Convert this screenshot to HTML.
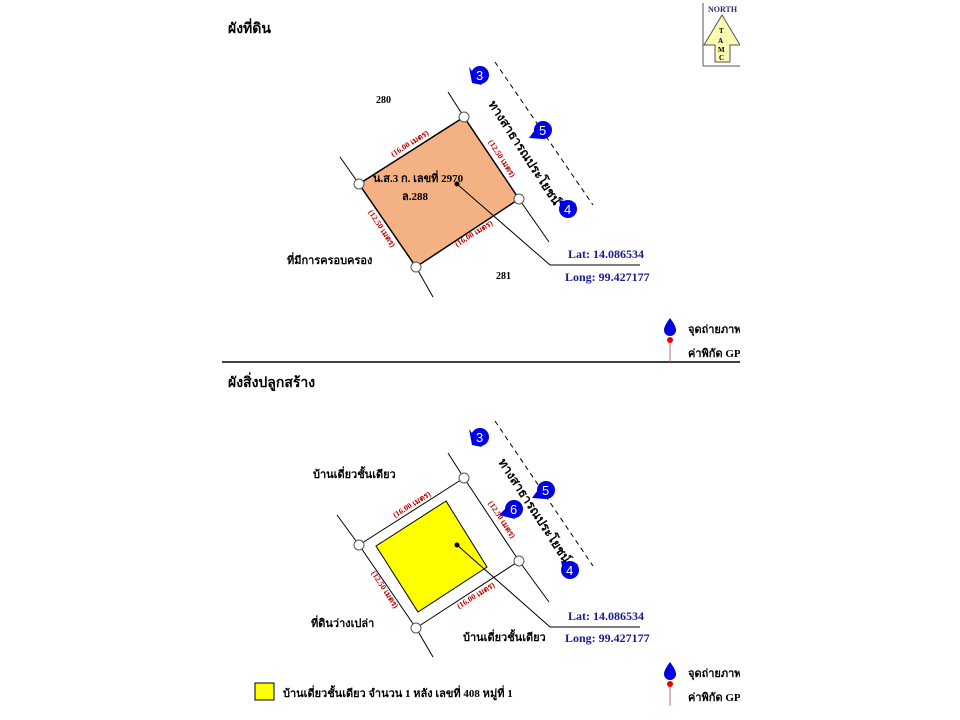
<!DOCTYPE html>
<html><head><meta charset="utf-8"><style>
html,body{margin:0;padding:0;background:#fff;width:960px;height:720px;overflow:hidden}
svg{display:block}
text{font-family:"Liberation Serif","Noto Serif CJK SC","Noto Sans CJK SC",serif;font-weight:bold}
.r{fill:#c00000;font-size:8px}
.b{fill:#1a1a8c;font-size:12px}
.m{fill:#fff;font-family:"Liberation Sans",sans-serif;font-weight:normal;font-size:13px}
</style></head><body>
<svg width="960" height="720" viewBox="0 0 960 720" xmlns="http://www.w3.org/2000/svg">
<text x="228" y="33" font-size="14">ผังที่ดิน</text>
<text x="228" y="387" font-size="14">ผังสิ่งปลูกสร้าง</text>
<line x1="222" y1="362" x2="740" y2="362" stroke="#000" stroke-width="1.5"/>
<!-- north -->
<line x1="703" y1="3" x2="703" y2="66" stroke="#555"/>
<line x1="703" y1="66" x2="740" y2="66" stroke="#555"/>
<text x="708" y="12" font-size="8" fill="#2a2a7a">NORTH</text>
<polygon points="722,15 740,45 730,45 730,62 715,62 715,45 704,45" fill="#fafab0" stroke="#555"/>
<text x="719" y="33" font-size="7">T</text><text x="718" y="43" font-size="7">A</text><text x="718" y="52" font-size="7">M</text><text x="719" y="60" font-size="7">C</text>

<!-- TOP PLOT -->
<g stroke="#000" stroke-width="1">
<line x1="448" y1="92" x2="464" y2="117"/>
<line x1="340" y1="157" x2="359" y2="184"/>
<line x1="416" y1="267" x2="433" y2="297"/>
<line x1="519" y1="199" x2="549" y2="242"/>
<line x1="495" y1="62" x2="593" y2="205" stroke-dasharray="5,4"/>
</g>
<polygon points="464,117 359,184 416,267 519,199" fill="#f4b183" stroke="#000" stroke-width="1.5"/>
<g fill="#fff" stroke="#555"><circle cx="464" cy="117" r="5"/><circle cx="359" cy="184" r="5"/><circle cx="416" cy="267" r="5"/><circle cx="519" cy="199" r="5"/></g>
<text class="r" transform="translate(393,157) rotate(-32)">(16.00 เมตร)</text>
<text class="r" transform="translate(488,142) rotate(57)">(12.50 เมตร)</text>
<text class="r" transform="translate(368,212) rotate(57)">(12.50 เมตร)</text>
<text class="r" transform="translate(457,247) rotate(-32)">(16.00 เมตร)</text>
<text x="373" y="182" font-size="11">น.ส.3 ก. เลขที่ 2970</text>
<text x="402" y="200" font-size="11">ล.288</text>
<circle cx="457" cy="184" r="2.5"/>
<polyline points="457,184 550,265 640,265" fill="none" stroke="#000"/>
<text x="568" y="258" class="b">Lat: 14.086534</text>
<text x="565" y="281" class="b">Long: 99.427177</text>
<text x="376" y="103" font-size="10">280</text>
<text x="496" y="279" font-size="10">281</text>
<text x="287" y="264" font-size="11">ที่มีการครอบครอง</text>
<text transform="translate(488,104) rotate(57)" font-size="12.5">ทางสาธารณประโยชน์</text>
<g><polygon points="469,67 482,85 472,83" fill="#0000e0"/><circle cx="480" cy="75" r="9" fill="#0000e0"/><text class="m" x="476" y="80">3</text></g>
<g><polygon points="529,138 540,123 543,139" fill="#0000e0"/><circle cx="543" cy="130" r="9" fill="#0000e0"/><text class="m" x="539" y="135">5</text></g>
<g><polygon points="559,200 576,203 562,215" fill="#0000e0"/><circle cx="568" cy="209" r="9" fill="#0000e0"/><text class="m" x="564" y="214">4</text></g>

<!-- legend top -->
<path d="M670,318 Q664,326 664,330 A6,6 0 0 0 676,330 Q676,326 670,318Z" fill="#0000e0"/>
<text x="688" y="333" font-size="11">จุดถ่ายภาพ</text>
<line x1="670" y1="340" x2="670" y2="362" stroke="#b07070"/>
<circle cx="670" cy="340" r="3" fill="#e00"/>
<text x="688" y="357" font-size="11">ค่าพิกัด GPS</text>

<!-- BOTTOM PLOT -->
<g stroke="#000" stroke-width="1">
<line x1="448" y1="453" x2="464" y2="478"/>
<line x1="337" y1="515" x2="359" y2="545"/>
<line x1="416" y1="628" x2="433" y2="657"/>
<line x1="519" y1="561" x2="549" y2="602"/>
<line x1="495" y1="421" x2="593" y2="566" stroke-dasharray="5,4"/>
</g>
<polygon points="464,478 359,545 416,628 519,561" fill="#fff" stroke="#000" stroke-width="1"/>
<polygon points="446,501 376,546 418,612 487,567" fill="#ffff00" stroke="#000" stroke-width="1"/>
<g fill="#fff" stroke="#555"><circle cx="464" cy="478" r="5"/><circle cx="359" cy="545" r="5"/><circle cx="416" cy="628" r="5"/><circle cx="519" cy="561" r="5"/></g>
<text class="r" transform="translate(395,518) rotate(-32)">(16.00 เมตร)</text>
<text class="r" transform="translate(488,503) rotate(57)">(12.50 เมตร)</text>
<text class="r" transform="translate(371,573) rotate(57)">(12.50 เมตร)</text>
<text class="r" transform="translate(459,609) rotate(-32)">(16.00 เมตร)</text>
<circle cx="457" cy="545" r="2.5"/>
<polyline points="457,545 550,627 640,627" fill="none" stroke="#000"/>
<text x="568" y="620" class="b">Lat: 14.086534</text>
<text x="565" y="642" class="b">Long: 99.427177</text>
<text x="313" y="478" font-size="11">บ้านเดี่ยวชั้นเดียว</text>
<text x="463" y="641" font-size="11">บ้านเดี่ยวชั้นเดียว</text>
<text x="311" y="627" font-size="11">ที่ดินว่างเปล่า</text>
<text transform="translate(498,462) rotate(57)" font-size="12.5">ทางสาธารณประโยชน์</text>
<g><polygon points="469,429 482,447 472,445" fill="#0000e0"/><circle cx="480" cy="437" r="9" fill="#0000e0"/><text class="m" x="476" y="442">3</text></g>
<g><polygon points="532,498 543,483 546,499" fill="#0000e0"/><circle cx="546" cy="490" r="9" fill="#0000e0"/><text class="m" x="542" y="495">5</text></g>
<g><polygon points="499,515 512,502 515,519" fill="#0000e0"/><circle cx="514" cy="509" r="9" fill="#0000e0"/><text class="m" x="510" y="514">6</text></g>
<g><polygon points="561,561 578,564 564,576" fill="#0000e0"/><circle cx="570" cy="570" r="9" fill="#0000e0"/><text class="m" x="566" y="575">4</text></g>

<!-- legend bottom -->
<path d="M670,662 Q664,670 664,674 A6,6 0 0 0 676,674 Q676,670 670,662Z" fill="#0000e0"/>
<text x="688" y="677" font-size="11">จุดถ่ายภาพ</text>
<line x1="670" y1="684" x2="670" y2="706" stroke="#b07070"/>
<circle cx="670" cy="684" r="3" fill="#e00"/>
<text x="688" y="701" font-size="11">ค่าพิกัด GPS</text>
<rect x="255" y="683" width="19" height="17" fill="#ffff00" stroke="#000"/>
<text x="283" y="697" font-size="11">บ้านเดี่ยวชั้นเดียว จำนวน 1 หลัง เลขที่ 408 หมู่ที่ 1</text>
<rect x="740" y="0" width="220" height="720" fill="#fff"/>
</svg>
</body></html>
